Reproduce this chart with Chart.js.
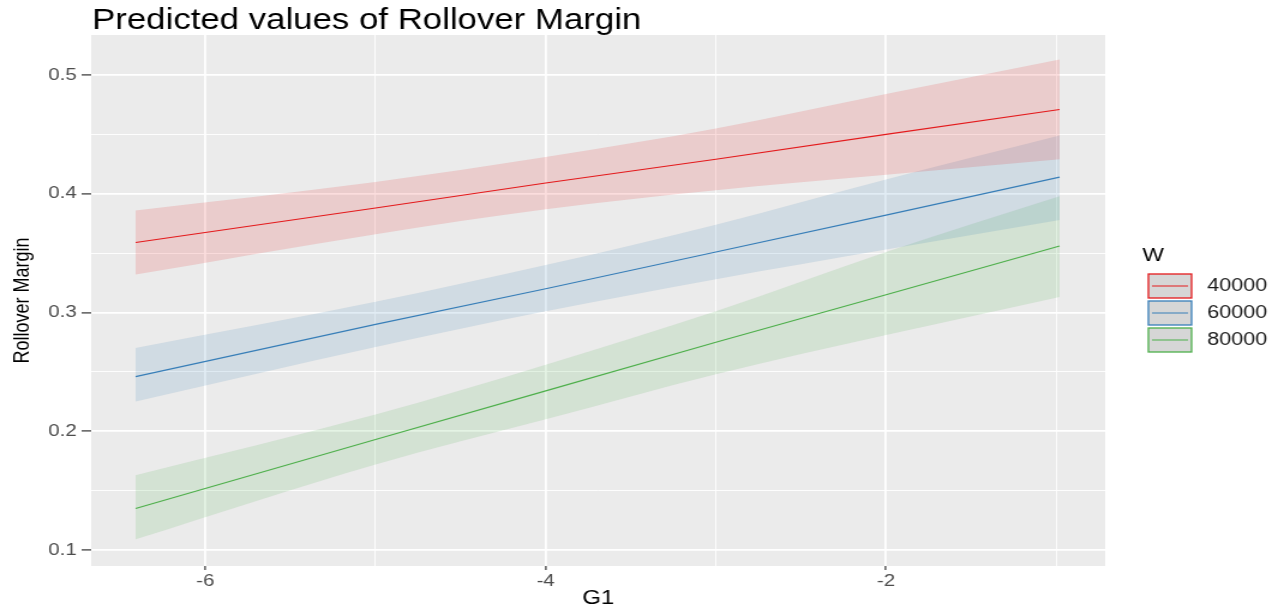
<!DOCTYPE html>
<html>
<head>
<meta charset="utf-8">
<script src="https://cdn.jsdelivr.net/npm/chart.js@4/dist/chart.umd.min.js"></script>
<style>
  html, body { margin: 0; padding: 0; background: #fff; overflow: hidden; }
  /* the reference is a bit stretched sideways, so draw narrow and scale */
  #wrap { width: 1070px; height: 611px; transform: scaleX(1.2); transform-origin: 0 0; }
</style>
</head>
<body>
<div id="wrap"><canvas id="chart" width="1070" height="611"></canvas></div>
<script>
const g1 = [-6.41, -5, -4, -3, -2, -0.98];
const wLevels = ['40000', '60000', '80000'];
const wColors = ['#E41A1C', '#377EB8', '#4DAF4A'];

const fit40 = [0.359, 0.388, 0.409, 0.429, 0.450, 0.471];
const low40 = [0.332, 0.366, 0.387, 0.403, 0.416, 0.429];
const high40 = [0.386, 0.410, 0.431, 0.455, 0.484, 0.513];

const fit60 = [0.246, 0.290, 0.320, 0.351, 0.382, 0.414];
const low60 = [0.225, 0.271, 0.301, 0.328, 0.353, 0.378];
const high60 = [0.270, 0.309, 0.340, 0.374, 0.412, 0.449];

const fit80 = [0.135, 0.193, 0.234, 0.275, 0.315, 0.356];
const low80 = [0.109, 0.172, 0.210, 0.248, 0.281, 0.313];
const high80 = [0.163, 0.214, 0.256, 0.301, 0.351, 0.398];

const xTicks = [-6, -5, -4, -3, -2, -1];
const yTicks = [0.1, 0.15, 0.2, 0.25, 0.3, 0.35, 0.4, 0.45, 0.5];

const fits = [fit40, fit60, fit80];
const lows = [low40, low60, low80];
const highs = [high40, high60, high80];

function pts(arr) {
    return arr.map((v, i) => ({ x: g1[i], y: v }));
}

function hexA(hex, a) {
    const n = parseInt(hex.slice(1), 16);
    return `rgba(${n >> 16}, ${(n >> 8) & 255}, ${n & 255}, ${a})`;
}

const datasets = [];
wLevels.forEach((w, k) => {
    datasets.push({ label: w + ' hi', data: pts(highs[k]), fill: '+1', backgroundColor: hexA(wColors[k], 0.15), borderWidth: 0, pointRadius: 0, cubicInterpolationMode: 'monotone' });
    datasets.push({ label: w + ' lo', data: pts(lows[k]), fill: false, borderWidth: 0, pointRadius: 0, cubicInterpolationMode: 'monotone' });
    datasets.push({ label: w, data: pts(fits[k]), fill: false, borderColor: wColors[k], borderWidth: 1.1, pointRadius: 0 });
});

const isMajorX = v => Math.abs(v % 2) < 1e-9;
const isMajorY = v => Math.abs(v * 10 - Math.round(v * 10)) < 1e-6;

const panelPlugin = {
    id: 'panel',
    beforeDraw(chart) {
        const { ctx, chartArea: a } = chart;
        ctx.save();
        ctx.fillStyle = '#EBEBEB';
        ctx.fillRect(a.left, a.top, a.right - a.left, a.bottom - a.top);
        ctx.restore();
    },
    afterDraw(chart) {
        const ctx = chart.ctx;
        ctx.save();
        // title
        ctx.fillStyle = '#000';
        ctx.font = '29px "Liberation Sans", Arial, sans-serif';
        ctx.textBaseline = 'alphabetic';
        ctx.fillText('Predicted values of Rollover Margin', 76.7, 29);

        // legend
        ctx.font = '19px "Liberation Sans", Arial, sans-serif';
        ctx.textBaseline = 'middle';
        ctx.fillText('W', 952, 256);
        const keyTops = [274, 301, 328];
        wLevels.forEach((w, k) => {
            const y = keyTops[k];
            ctx.fillStyle = '#D6D6D6';
            ctx.fillRect(957, y, 36, 24);
            ctx.strokeStyle = wColors[k];
            ctx.lineWidth = 1.3;
            ctx.strokeRect(957, y, 36, 24);
            ctx.beginPath();
            ctx.moveTo(960, y + 12);
            ctx.lineTo(990, y + 12);
            ctx.lineWidth = 1;
            ctx.stroke();
            ctx.fillStyle = '#1A1A1A';
            ctx.font = '18px "Liberation Sans", Arial, sans-serif';
            ctx.fillText(w, 1006, y + 12);
        });
        ctx.restore();
    }
};

new Chart(document.getElementById('chart'), {
    type: 'line',
    data: { datasets },
    options: {
        responsive: false,
        animation: false,
        devicePixelRatio: 1,
        layout: { padding: { top: 35, right: 149, left: 0, bottom: 0 } },
        plugins: {
            legend: { display: false },
            tooltip: { enabled: false },
            filler: { drawTime: 'beforeDatasetsDraw' }
        },
        scales: {
            x: {
                type: 'linear',
                min: -6.671,
                max: -0.712,
                afterBuildTicks: s => { s.ticks = xTicks.map(v => ({ value: v })); },
                afterFit: s => { s.height = 45; },
                border: { display: false },
                grid: {
                    color: '#FFFFFF',
                    lineWidth: c => (c.tick && isMajorX(c.tick.value) ? 1.8 : 0.9),
                    tickColor: c => (c.tick && isMajorX(c.tick.value) ? '#333333' : 'rgba(0,0,0,0)'),
                    tickWidth: 1.2,
                    tickLength: 4
                },
                ticks: {
                    autoSkip: false,
                    maxRotation: 0,
                    padding: 1,
                    color: '#4D4D4D',
                    font: { family: '"Liberation Sans", Arial, sans-serif', size: 17 },
                    callback: v => (isMajorX(v) ? String(v) : '')
                },
                title: {
                    display: true,
                    text: 'G1',
                    color: '#000',
                    font: { family: '"Liberation Sans", Arial, sans-serif', size: 20 },
                    padding: { top: 0, bottom: 1 }
                }
            },
            y: {
                type: 'linear',
                min: 0.0865,
                max: 0.5337,
                afterBuildTicks: s => { s.ticks = yTicks.map(v => ({ value: v })); },
                afterFit: s => { s.width = 76; },
                border: { display: false },
                grid: {
                    color: '#FFFFFF',
                    lineWidth: c => (c.tick && isMajorY(c.tick.value) ? 1.8 : 0.9),
                    tickColor: c => (c.tick && isMajorY(c.tick.value) ? '#333333' : 'rgba(0,0,0,0)'),
                    tickWidth: 1.2,
                    tickLength: 8
                },
                ticks: {
                    autoSkip: false,
                    padding: 4,
                    color: '#4D4D4D',
                    font: { family: '"Liberation Sans", Arial, sans-serif', size: 17 },
                    callback: v => (isMajorY(v) ? String(Math.round(v * 10) / 10) : '')
                },
                title: {
                    display: true,
                    text: 'Rollover Margin',
                    color: '#000',
                    font: { family: '"Liberation Sans Narrow", "Liberation Sans", Arial, sans-serif', size: 18 },
                    padding: { top: 8, bottom: 0 }
                }
            }
        }
    },
    plugins: [panelPlugin]
});
</script>
</body>
</html>
